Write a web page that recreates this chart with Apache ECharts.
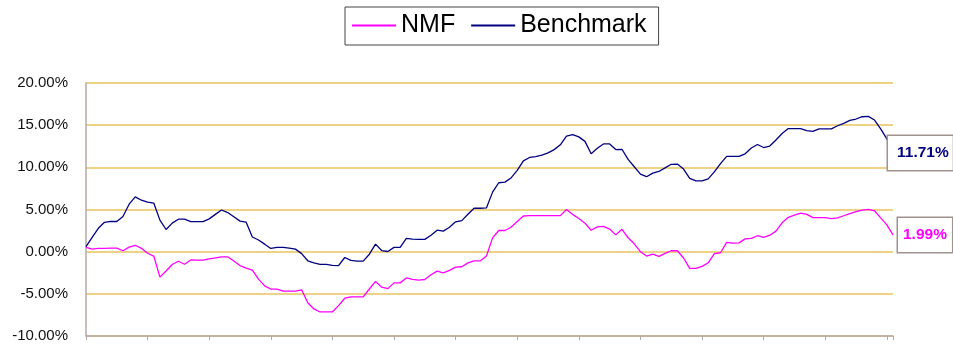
<!DOCTYPE html>
<html lang="en">
<head>
    <meta charset="UTF-8">
    <title>NMF vs Benchmark</title>
    <script src="https://cdn.jsdelivr.net/npm/echarts@6/dist/echarts.min.js"></script>
    <style>
        html, body { margin: 0; padding: 0; background: #fff; }
        #main { width: 953px; height: 346px; }
    </style>
</head>
<body>
<div id="main"></div>
<script>
    // cumulative return, %
    var nmf = [0.51, 0.30, 0.39, 0.39, 0.43, 0.42, 0.11, 0.54, 0.76, 0.40,
        -0.19, -0.52, -3.02, -2.29, -1.52, -1.14, -1.49, -0.98, -1.00, -1.00,
        -0.85, -0.74, -0.61, -0.61, -1.11, -1.65, -1.96, -2.18, -3.26, -4.05,
        -4.43, -4.44, -4.69, -4.69, -4.69, -4.52, -6.06, -6.79, -7.15, -7.15,
        -7.15, -6.40, -5.52, -5.35, -5.35, -5.35, -4.43, -3.52, -4.21, -4.38,
        -3.70, -3.70, -3.12, -3.29, -3.38, -3.30, -2.73, -2.31, -2.51, -2.21,
        -1.83, -1.79, -1.33, -1.10, -1.10, -0.52, 1.64, 2.51, 2.51, 2.90,
        3.57, 4.23, 4.27, 4.27, 4.27, 4.27, 4.27, 4.27, 5.01, 4.42,
        3.94, 3.38, 2.54, 2.94, 2.99, 2.68, 1.99, 2.65, 1.65, 0.93,
        0.00, -0.52, -0.29, -0.55, -0.21, 0.11, 0.11, -0.75, -1.99, -1.99,
        -1.74, -1.32, -0.23, -0.13, 1.11, 1.02, 1.04, 1.52, 1.58, 1.89,
        1.69, 1.95, 2.44, 3.42, 4.08, 4.32, 4.56, 4.42, 4.04, 4.04,
        4.04, 3.93, 4.01, 4.26, 4.51, 4.74, 4.93, 5.02, 4.85, 4.00,
        3.17, 1.99];

    var benchmark = [0.61, 1.70, 2.77, 3.48, 3.60, 3.58, 4.17, 5.63, 6.50, 6.10,
        5.87, 5.76, 3.74, 2.63, 3.38, 3.85, 3.85, 3.56, 3.56, 3.56,
        3.89, 4.42, 4.94, 4.64, 4.13, 3.62, 3.49, 1.74, 1.38, 0.89,
        0.38, 0.52, 0.52, 0.43, 0.30, -0.23, -1.08, -1.33, -1.51, -1.51,
        -1.62, -1.65, -0.69, -1.04, -1.12, -1.12, -0.30, 0.89, 0.13, 0.02,
        0.51, 0.51, 1.57, 1.49, 1.46, 1.46, 1.94, 2.55, 2.44, 2.90,
        3.54, 3.68, 4.43, 5.15, 5.15, 5.19, 7.06, 8.17, 8.25, 8.74,
        9.63, 10.77, 11.17, 11.27, 11.46, 11.71, 12.10, 12.67, 13.70, 13.88,
        13.61, 13.08, 11.62, 12.27, 12.77, 12.77, 12.11, 12.14, 10.94, 10.07,
        9.20, 8.89, 9.31, 9.51, 9.94, 10.36, 10.39, 9.80, 8.68, 8.40,
        8.40, 8.63, 9.46, 10.44, 11.30, 11.30, 11.30, 11.60, 12.29, 12.71,
        12.35, 12.52, 13.24, 14.02, 14.60, 14.60, 14.60, 14.36, 14.27, 14.56,
        14.56, 14.56, 14.93, 15.21, 15.56, 15.73, 16.00, 16.04, 15.61, 14.55,
        13.37, 11.71];

    var seriesNames = ['NMF', 'Benchmark'];
    var endLabels = ['1.99%', '11.71%'];

    // y axis ticks
    var yMin = -10, yMax = 20, yStep = 5;

    // one category per point, a tick every 10 points
    var days = [];
    for (var i = 0; i < nmf.length; i++) {
        days.push(String(i + 1));
    }
    var tickEvery = 10;

    var myChart = echarts.init(document.getElementById('main'));

    var option = {
        animation: false,
        textStyle: { fontFamily: 'Liberation Sans, Arial, sans-serif' },
        legend: {
            data: [
                { name: seriesNames[0], icon: 'rect' },
                { name: seriesNames[1], icon: 'rect' }
            ],
            left: 345,
            top: 7,
            padding: [6, 12, 7, 7],
            itemWidth: 44,
            itemHeight: 2,
            itemGap: 16,
            borderColor: '#444',
            borderWidth: 1,
            textStyle: { fontSize: 25, color: '#000' }
        },
        grid: {
            left: 86,
            right: 60,
            top: 83,
            bottom: 10
        },
        xAxis: {
            type: 'category',
            data: days,
            boundaryGap: false,
            axisLine: { onZero: false, lineStyle: { color: '#b4a8a6', width: 1.5 } },
            axisTick: {
                length: 4,
                lineStyle: { color: '#b4a8a6' },
                interval: function (index) {
                    return index % tickEvery === 0 || index === days.length - 1;
                }
            },
            axisLabel: { show: false },
            splitLine: { show: false }
        },
        yAxis: {
            type: 'value',
            min: yMin,
            max: yMax,
            interval: yStep,
            axisLine: { show: true, lineStyle: { color: '#b4a8a6', width: 1.5 } },
            axisTick: { show: false },
            axisLabel: {
                margin: 18,
                fontSize: 15,
                color: '#111',
                formatter: function (v) { return v.toFixed(2) + '%'; }
            },
            splitLine: { lineStyle: { color: '#e8c35e', width: 1.5 } }
        },
        series: [
            {
                name: seriesNames[0],
                type: 'line',
                data: nmf,
                symbol: 'none',
                lineStyle: { color: '#ff00ff', width: 1.3 },
                itemStyle: { color: '#ff00ff' },
                endLabel: {
                    show: true,
                    formatter: endLabels[0],
                    distance: 5,
                    color: '#ff00ff',
                    fontWeight: 'bold',
                    fontSize: 15.5,
                    backgroundColor: '#fff',
                    borderColor: '#a0928e',
                    borderWidth: 1.5,
                    padding: [9, 5, 9, 5]
                }
            },
            {
                name: seriesNames[1],
                type: 'line',
                data: benchmark,
                symbol: 'none',
                lineStyle: { color: '#000080', width: 1.3 },
                itemStyle: { color: '#000080' },
                endLabel: {
                    show: true,
                    formatter: endLabels[1],
                    distance: 5,
                    offset: [-10, 0],
                    color: '#000080',
                    fontWeight: 'bold',
                    fontSize: 15.5,
                    backgroundColor: '#fff',
                    borderColor: '#a0928e',
                    borderWidth: 1.5,
                    padding: [9, 4, 9, 9]
                }
            }
        ]
    };

    myChart.setOption(option);
</script>
</body>
</html>
